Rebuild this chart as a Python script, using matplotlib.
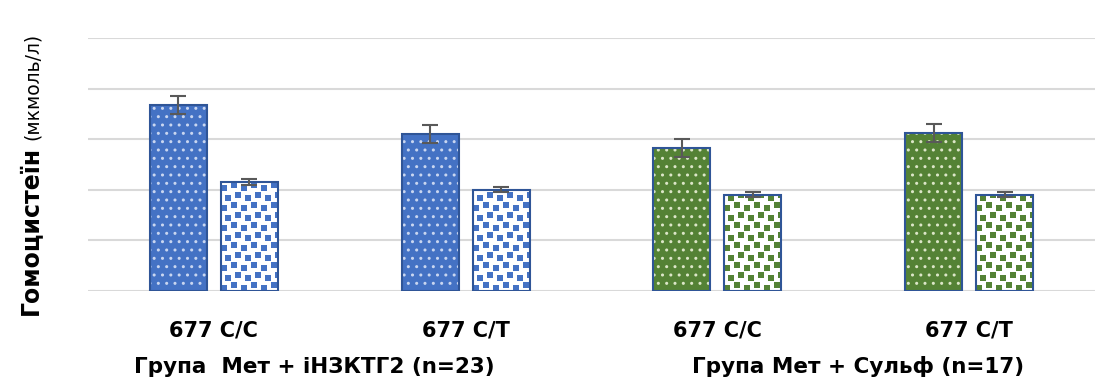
import matplotlib.pyplot as plt
import numpy as np

# values (arbitrary units, gridline step = 5)
genotypes = ['677 C/C', '677 C/T', '677 C/C', '677 C/T']
groups = ['Група  Мет + іНЗКТГ2 (n=23)', 'Група Мет + Сульф (n=17)']
dark_vals = [18.4, 15.5, 14.1, 15.6]
dark_err = [0.9, 0.9, 0.9, 0.9]
light_vals = [10.8, 10.0, 9.5, 9.5]
light_err = [0.3, 0.25, 0.25, 0.25]
colors = ['#4472C4', '#4472C4', '#548235', '#548235']
dot_colors = ['#C9D6F0', '#C9D6F0', '#DCE6C8', '#DCE6C8']

plt.rcParams['font.family'] = ['DejaVu Sans']

W, H = 1107, 386
fig = plt.figure(figsize=(W / 100, H / 100), dpi=100)
ax = fig.add_axes([88 / W, 1 - 291 / H, (1095 - 88) / W, (291 - 38) / H])

x = np.arange(len(genotypes))
w = 0.227
off = 0.141
edge = '#2F5597'
ax.set_xlim(-0.5, 3.5)
ax.set_ylim(0, 25)

# pixel -> data scale, for the confetti pattern
px_x = 4.0 / (1095 - 88)
px_y = 25.0 / (291 - 38)
tile = 20
confetti = [(3, 3), (13, 6), (7, 13), (17, 16)]

for i in range(len(x)):
    c = colors[i]
    # solid bar with light dots
    ax.bar(x[i] - off, dark_vals[i], w, color=c, edgecolor=dot_colors[i],
           hatch='..', linewidth=0, zorder=2)
    ax.bar(x[i] - off, dark_vals[i], w, fill=False, edgecolor=edge, linewidth=1.5, zorder=3)
    # white bar with coloured squares
    b = ax.bar(x[i] + off, light_vals[i], w, color='white', linewidth=0, zorder=2)[0]
    x0 = x[i] + off - w / 2
    npx = int(w / px_x) + tile
    npy = int(light_vals[i] / px_y) + tile
    xs, ys = [], []
    for tx in range(0, npx, tile):
        for ty in range(0, npy, tile):
            for dx, dy in confetti:
                xs.append(x0 + (tx + dx) * px_x)
                ys.append((ty + dy) * px_y)
    sc = ax.scatter(xs, ys, marker='s', s=24, color=c, linewidths=0, zorder=2.5)
    sc.set_clip_path(b)
    ax.bar(x[i] + off, light_vals[i], w, fill=False, edgecolor=edge, linewidth=1.5, zorder=3)

ax.errorbar(x - off, dark_vals, yerr=dark_err, fmt='none', ecolor='#595959', elinewidth=1.5,
            capsize=6, capthick=1.5, zorder=4)
ax.errorbar(x + off, light_vals, yerr=light_err, fmt='none', ecolor='#595959', elinewidth=1.5,
            capsize=6, capthick=1.5, zorder=4)

ax.set_yticks(np.arange(0, 26, 5))
ax.set_yticklabels([])
ax.yaxis.grid(True, color='#D9D9D9', linewidth=1.5, zorder=0)
ax.set_axisbelow(True)
ax.tick_params(length=0)
for s in ax.spines.values():
    s.set_visible(False)
ax.set_xticks(x)
ax.set_xticklabels(genotypes, fontsize=15, fontweight='bold')
ax.tick_params(axis='x', pad=21)

group_pos = [0.4, 2.56]
for j, g in enumerate(groups):
    ax.text(group_pos[j], -0.30, g, transform=ax.get_xaxis_transform(), ha='center', va='center',
            fontsize=15.5, fontweight='bold')

# y label: bold word + smaller units
fig.canvas.draw()
t1 = fig.text(38 / W, 1 - 315 / H, 'Гомоцистеїн', rotation=90, rotation_mode='anchor',
              ha='left', va='baseline', fontsize=17, fontweight='bold')
bb = t1.get_window_extent(fig.canvas.get_renderer())
fig.text(38 / W, (bb.y1 + 6) / fig.bbox.height, '(мкмоль/л)', rotation=90, rotation_mode='anchor',
         ha='left', va='baseline', fontsize=13.5)

fig.savefig('out.png', dpi=100, facecolor='white')
